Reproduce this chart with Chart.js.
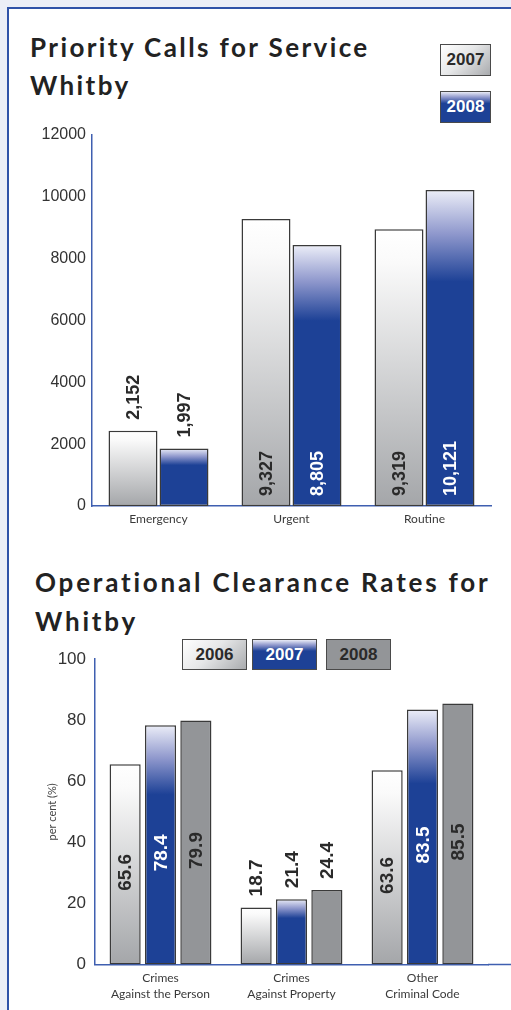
<!DOCTYPE html>
<html lang="en">
<head>
    <meta charset="UTF-8">
    <title>Priority Calls and Clearance Rates - Whitby</title>
    <script src="https://cdn.jsdelivr.net/npm/chart.js"></script>
    <style>
        body { margin: 0; width: 511px; height: 1010px; background: #eceef7; position: relative; overflow: hidden; }
        #panel { position: absolute; left: 7px; top: 7px; right: 0; bottom: 0; background: #fff;
                 border-left: 2px solid #3052a8; border-top: 2px solid #3052a8; }
        .title { position: absolute; font-family: Lato, sans-serif; font-weight: bold; font-size: 26px;
                 color: #222; white-space: nowrap; }
        .lg { position: absolute; box-sizing: border-box; border: 1px solid #4a4a4a; font-family: "Liberation Sans", Arial, sans-serif;
              font-weight: bold; font-size: 17px; text-align: center; color: #2a2a2a; }
        .grey { background: linear-gradient(135deg, #ffffff 0%, #e6e7e8 45%, #a9abae 100%); }
        .blue { background: linear-gradient(180deg, #e9ebf6 0%, #8d96cb 18%, #1d4196 38%, #1d4196 100%); color: #fff; }
        .dark { background: #939598; }
        canvas { position: absolute; left: 0; }
    </style>
</head>
<body>
    <div id="panel"></div>

    <div class="title" style="left:30px;top:28px;line-height:38px;letter-spacing:2.4px">Priority Calls for Service<br>Whitby</div>
    <div class="lg grey" style="left:440px;top:44px;width:51px;height:32px;line-height:30px">2007</div>
    <div class="lg blue" style="left:440px;top:91px;width:51px;height:32px;line-height:30px">2008</div>

    <div class="title" style="left:35px;top:563px;line-height:39px;letter-spacing:2.8px">Operational Clearance Rates for<br>Whitby</div>
    <div class="lg grey" style="left:182px;top:639px;width:65px;height:31px;line-height:29px">2006</div>
    <div class="lg blue" style="left:252px;top:639px;width:65px;height:31px;line-height:29px">2007</div>
    <div class="lg dark" style="left:326px;top:639px;width:65px;height:31px;line-height:29px">2008</div>

    <canvas id="callsChart" width="511" height="430" style="top:110px"></canvas>
    <canvas id="ratesChart" width="511" height="370" style="top:640px"></canvas>

    <script>
        // Priority calls - bar heights as drawn, printed figures as written on the bars
        const callCategories = ["Emergency", "Urgent", "Routine"];
        const calls2007 = [2430, 9280, 8950];
        const calls2008 = [1860, 8440, 10220];
        const callText2007 = ["2,152", "9,327", "9,319"];
        const callText2008 = ["1,997", "8,805", "10,121"];

        // Clearance rates (%)
        const rateCategories = [["Crimes", "Against the Person"], ["Crimes", "Against Property"], ["Other", "Criminal Code"]];
        const rates2006 = [65.6, 18.7, 63.6];
        const rates2007 = [78.4, 21.4, 83.5];
        const rates2008 = [79.9, 24.4, 85.5];

        const BLUE = "#1d4196";
        const AXIS = "#3f5fb0";

        // per-bar vertical gradients
        function barFill(kind) {
            return function(c) {
                const chart = c.chart;
                const y = chart.scales.y;
                if (!chart.chartArea || !y || c.raw == null) return kind === "blue" ? BLUE : "#c8c9cb";
                const top = y.getPixelForValue(c.raw);
                const base = y.getPixelForValue(0);
                const g = chart.ctx.createLinearGradient(0, top, 0, base);
                if (kind === "blue") {
                    g.addColorStop(0, "#eceef8");
                    g.addColorStop(0.14, "#8e97cc");
                    g.addColorStop(0.29, BLUE);
                    g.addColorStop(1, BLUE);
                } else {
                    g.addColorStop(0, "#ffffff");
                    g.addColorStop(0.12, "#fafafa");
                    g.addColorStop(1, "#a4a6a9");
                }
                return g;
            };
        }

        // rotated value labels: outside above short bars, inside for tall ones
        function valueLabels(texts, insideColors, font, inside) {
            return {
                id: "valueLabels",
                afterDatasetsDraw(chart) {
                    const ctx = chart.ctx;
                    chart.data.datasets.forEach(function(ds, di) {
                        chart.getDatasetMeta(di).data.forEach(function(bar, i) {
                            const text = texts[di][i];
                            ctx.save();
                            ctx.font = font;
                            const w = ctx.measureText(text).width;
                            const h = bar.base - bar.y;
                            let cy, color;
                            if (h < 100) {
                                cy = bar.y - 11 - w / 2;
                                color = "#2a2a2a";
                            } else if (inside === "bottom") {
                                cy = bar.base - 10 - w / 2;
                                color = insideColors[di];
                            } else {
                                cy = (bar.y + bar.base) / 2 + 8;
                                color = insideColors[di];
                            }
                            ctx.translate(bar.x + 1, cy);
                            ctx.rotate(-Math.PI / 2);
                            ctx.fillStyle = color;
                            ctx.textAlign = "center";
                            ctx.textBaseline = "middle";
                            ctx.fillText(text, 0, 0);
                            ctx.restore();
                        });
                    });
                }
            };
        }

        // baseline running on to the right edge
        const longBaseline = {
            id: "longBaseline",
            afterDraw(chart) {
                const ctx = chart.ctx;
                const y0 = chart.scales.y.getPixelForValue(0);
                ctx.save();
                ctx.strokeStyle = AXIS;
                ctx.lineWidth = 1.5;
                ctx.beginPath();
                ctx.moveTo(chart.chartArea.right, y0);
                ctx.lineTo(chart.width, y0);
                ctx.stroke();
                ctx.restore();
            }
        };

        const barStyle = { borderColor: "#3a3a3a", borderWidth: 1.5, borderSkipped: false };

        new Chart(document.getElementById("callsChart"), {
            type: "bar",
            data: {
                labels: callCategories,
                datasets: [
                    Object.assign({ label: "2007", data: calls2007, backgroundColor: barFill("grey") }, barStyle),
                    Object.assign({ label: "2008", data: calls2008, backgroundColor: barFill("blue") }, barStyle)
                ]
            },
            options: {
                responsive: false,
                animation: false,
                categoryPercentage: 0.767,
                barPercentage: 0.96,
                layout: { padding: { top: 25, right: 20, left: 0, bottom: 0 } },
                plugins: { legend: { display: false }, tooltip: { enabled: false } },
                scales: {
                    x: {
                        grid: { display: false, drawTicks: false },
                        border: { display: true, color: AXIS, width: 1.5 },
                        ticks: { color: "#3a3a3a", padding: 6, font: { family: "Lato", size: 12 } },
                        afterFit: function(s) { s.height = 34; }
                    },
                    y: {
                        min: 0, max: 12000,
                        grid: { display: false, drawTicks: false },
                        border: { display: true, color: AXIS, width: 1.5 },
                        ticks: { stepSize: 2000, color: "#333", padding: 6, font: { family: "Liberation Sans", size: 16 },
                                 callback: function(v) { return String(v); } },
                        afterFit: function(s) { s.width = 92; }
                    }
                }
            },
            plugins: [valueLabels([callText2007, callText2008], ["#2a2a2a", "#ffffff"], "bold 18px 'Liberation Sans'", "bottom")]
        });

        new Chart(document.getElementById("ratesChart"), {
            type: "bar",
            data: {
                labels: rateCategories,
                datasets: [
                    Object.assign({ label: "2006", data: rates2006, backgroundColor: barFill("grey") }, barStyle),
                    Object.assign({ label: "2007", data: rates2007, backgroundColor: barFill("blue") }, barStyle),
                    Object.assign({ label: "2008", data: rates2008, backgroundColor: "#939598" }, barStyle)
                ]
            },
            options: {
                responsive: false,
                animation: false,
                categoryPercentage: 0.81,
                barPercentage: 0.88,
                layout: { padding: { top: 16.5, right: 23, left: 0, bottom: 0 } },
                plugins: { legend: { display: false }, tooltip: { enabled: false } },
                scales: {
                    x: {
                        grid: { display: false, drawTicks: false },
                        border: { display: true, color: AXIS, width: 1.5 },
                        ticks: { color: "#3a3a3a", padding: 6, font: { family: "Lato", size: 12, lineHeight: 1.33 } },
                        afterFit: function(s) { s.height = 45.5; }
                    },
                    y: {
                        min: 0, max: 100,
                        grid: { display: false, drawTicks: false },
                        border: { display: true, color: AXIS, width: 1.5 },
                        title: { display: true, text: "per cent (%)", color: "#444", padding: { top: 46, bottom: 0 },
                                 font: { family: "Lato", size: 11 } },
                        ticks: { stepSize: 20, color: "#333", padding: 9, font: { family: "Liberation Sans", size: 17 } },
                        afterFit: function(s) { s.width = 95; }
                    }
                }
            },
            plugins: [valueLabels([rates2006.map(String), rates2007.map(String), rates2008.map(String)],
                                  ["#2a2a2a", "#ffffff", "#2a2a2a"], "bold 19px 'Liberation Sans'", "middle"), longBaseline]
        });
    </script>
</body>
</html>
